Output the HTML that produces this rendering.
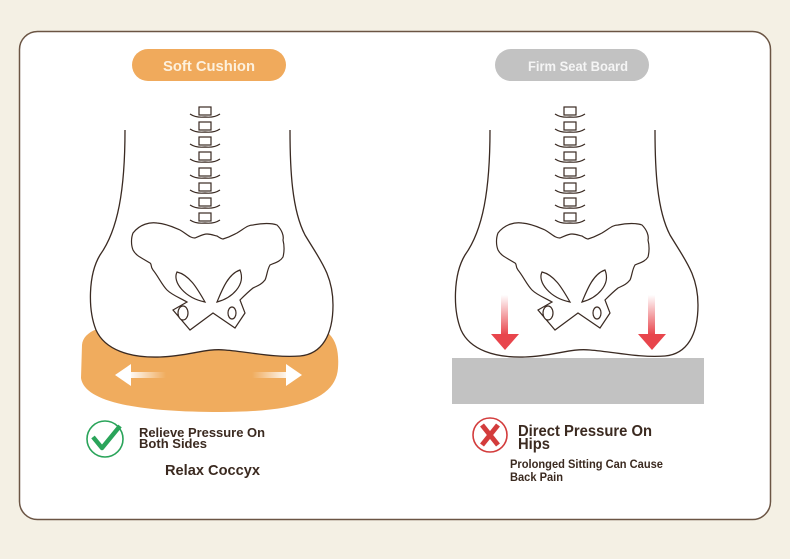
<!DOCTYPE html>
<html><head><meta charset="utf-8"><style>
html,body{margin:0;padding:0;width:790px;height:559px;background:#f4f0e4;overflow:hidden}
svg{display:block}
text{font-family:"Liberation Sans",sans-serif}
</style></head><body>
<svg width="790" height="559" viewBox="0 0 790 559">
<defs>
<linearGradient id="la" x1="0" x2="1"><stop offset="0" stop-color="#fff" stop-opacity="1"/><stop offset="1" stop-color="#fff" stop-opacity="0"/></linearGradient>
<linearGradient id="ra" x1="1" x2="0"><stop offset="0" stop-color="#fff" stop-opacity="1"/><stop offset="1" stop-color="#fff" stop-opacity="0"/></linearGradient>
<linearGradient id="dn" x1="0" y1="0" x2="0" y2="1"><stop offset="0" stop-color="#e8454c" stop-opacity="0"/><stop offset="1" stop-color="#e8454c" stop-opacity="1"/></linearGradient>
<g id="fig">
 <path d="M125,130 C125,190 118,230 100,255 C88,275 88,310 96,330 C105,350 130,358 160,357 C190,356 205,348 225,350 C250,352 275,358 300,356 C322,354 333,335 333,305 C333,275 320,260 305,235 C292,210 290,170 290,130" fill="#fff" stroke="#3a2a22" stroke-width="1.3"/>
 <g fill="#fff" stroke="#3a2a22" stroke-width="1.2">
  <g id="v"><path d="M190,114 Q196,118 205,117 Q214,118 220,114" fill="none"/><rect x="199" y="107" width="12" height="8"/></g>
  <use href="#v" y="15"/><use href="#v" y="30"/><use href="#v" y="45"/><use href="#v" y="61"/><use href="#v" y="76"/><use href="#v" y="91"/><use href="#v" y="106"/>
  <path d="M133,233 C140,224 150,222 157,223 C168,224 175,228 180,230 C187,234 190,238 195,238 C200,236 203,234 207,234 C212,234 215,236 217,236 C220,238 222,239 223,239 C230,237 233,235 237,233 C245,228 248,225 253,225 C262,223 272,223 277,225 C282,230 284,236 283,240 C285,248 284,253 283,257 C280,262 274,263 270,265 C267,270 267,276 265,280 C261,285 257,286 253,288 C248,292 244,296 240,300 L245,313 L235,328 L213,313 L190,330 L173,310 L187,302 C180,298 172,295 167,290 C162,285 158,276 153,270 C150,266 152,264 150,263 C142,258 136,256 133,250 C131,245 131,238 133,233 Z"/>
  <path d="M177,272 C172,282 185,298 205,302 C198,290 190,275 177,272 Z"/>
  <path d="M240,270 C228,274 222,290 217,302 C232,298 246,285 240,270 Z"/>
  <ellipse cx="183" cy="313" rx="5" ry="7"/>
  <ellipse cx="232" cy="313" rx="4" ry="6"/>
 </g>
</g>
</defs>
<rect x="19.5" y="31.5" width="751" height="488" rx="18" fill="#fff" stroke="#6b5544" stroke-width="1.5"/>
<rect x="132" y="49" width="154" height="32" rx="16" fill="#f0aa5c"/>
<text x="209" y="71" text-anchor="middle" font-size="15" fill="#fdf1de" font-weight="bold" textLength="92" lengthAdjust="spacingAndGlyphs">Soft Cushion</text>
<rect x="495" y="49" width="154" height="32" rx="16" fill="#c2c2c2"/>
<text x="578" y="71" text-anchor="middle" font-size="14" fill="#f5f5f5" font-weight="bold" textLength="100" lengthAdjust="spacingAndGlyphs">Firm Seat Board</text>
<path d="M82,345 C84,325 120,322 160,325 L300,325 C330,325 340,340 338,368 C336,398 300,412 220,412 C130,412 84,400 81,378 Z" fill="#f0ac5e"/>
<use href="#fig"/>
<rect x="128" y="372" width="38" height="6" fill="url(#la)"/>
<polygon points="115,375 131,364 131,386" fill="#fff"/>
<rect x="252" y="372" width="38" height="6" fill="url(#ra)"/>
<polygon points="302,375 286,364 286,386" fill="#fff"/>
<rect x="452" y="358" width="252" height="46" fill="#c2c2c2"/>
<use href="#fig" x="365"/>
<rect x="501" y="295" width="7" height="40" fill="url(#dn)"/>
<polygon points="491,334 519,334 505,350" fill="#e8454c"/>
<rect x="648" y="295" width="7" height="40" fill="url(#dn)"/>
<polygon points="638,334 666,334 652,350" fill="#e8454c"/>
<circle cx="105" cy="439" r="18" fill="none" stroke="#2aa45a" stroke-width="1.6"/>
<path d="M93,437 L102,448 L120,426" fill="none" stroke="#2aa45a" stroke-width="4.5" stroke-linejoin="round"/>
<g fill="#3b2a20" font-weight="bold">
<text x="139" y="437" font-size="13" textLength="126" lengthAdjust="spacingAndGlyphs">Relieve Pressure On</text>
<text x="139" y="448" font-size="13" textLength="68" lengthAdjust="spacingAndGlyphs">Both Sides</text>
<text x="165" y="475" font-size="15" textLength="95" lengthAdjust="spacingAndGlyphs">Relax Coccyx</text>
<text x="518" y="436" font-size="16" textLength="134" lengthAdjust="spacingAndGlyphs">Direct Pressure On</text>
<text x="518" y="449" font-size="16" textLength="32" lengthAdjust="spacingAndGlyphs">Hips</text>
<text x="510" y="468" font-size="12" textLength="153" lengthAdjust="spacingAndGlyphs">Prolonged Sitting Can Cause</text>
<text x="510" y="481" font-size="12" textLength="53" lengthAdjust="spacingAndGlyphs">Back Pain</text>
</g>
<circle cx="490" cy="435" r="17" fill="none" stroke="#d33c3c" stroke-width="1.6"/>
<path d="M482,425 L498,445 M498,425 L482,445" stroke="#d33c3c" stroke-width="5"/>
</svg>
</body></html>
